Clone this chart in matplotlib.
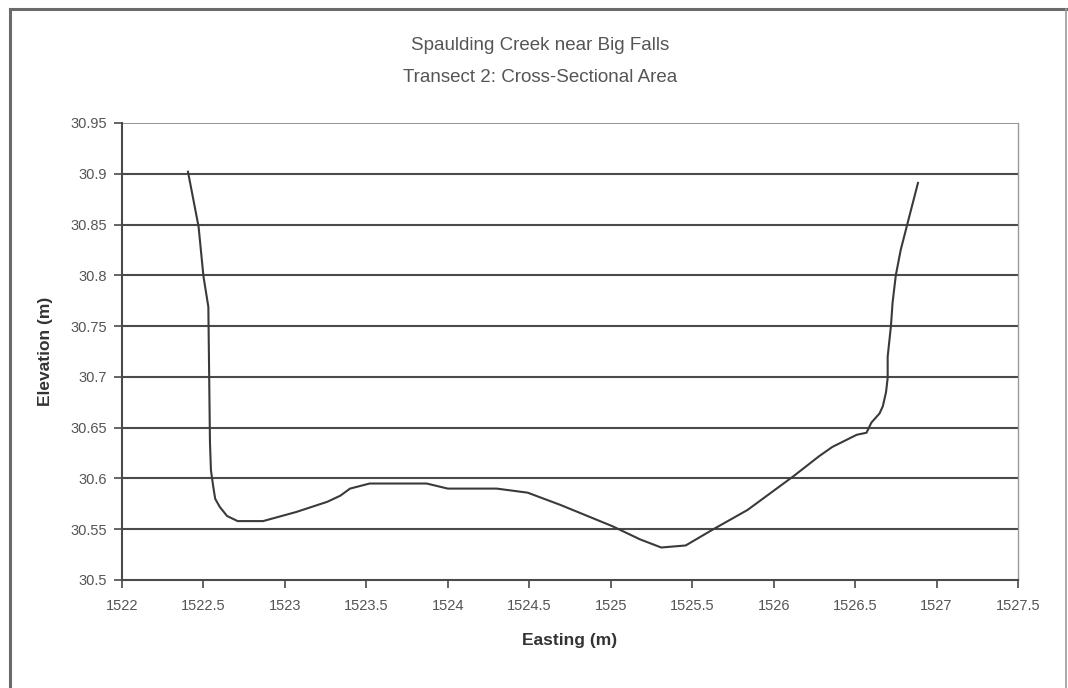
import matplotlib
matplotlib.use("Agg")
import matplotlib.pyplot as plt
from matplotlib.lines import Line2D

plt.rcParams['font.family'] = ['Liberation Sans', 'DejaVu Sans']

title_lines = ["Spaulding Creek near Big Falls", "Transect 2: Cross-Sectional Area"]
x_label = "Easting (m)"
y_label = "Elevation (m)"

easting = [1522.405, 1522.47, 1522.50, 1522.53, 1522.54, 1522.546, 1522.56, 1522.572,
           1522.60, 1522.645, 1522.71, 1522.866, 1523.07, 1523.26, 1523.34, 1523.40,
           1523.52, 1523.87, 1524.00, 1524.30, 1524.49, 1524.69, 1525.01, 1525.18,
           1525.31, 1525.46, 1525.63, 1525.84, 1526.12, 1526.28, 1526.36, 1526.51,
           1526.57, 1526.60, 1526.65, 1526.67, 1526.69, 1526.70, 1526.70, 1526.72,
           1526.73, 1526.75, 1526.78, 1526.82, 1526.886]
elevation = [30.902, 30.848, 30.799, 30.769, 30.635, 30.608, 30.592, 30.580,
             30.572, 30.563, 30.558, 30.558, 30.567, 30.577, 30.583, 30.590,
             30.595, 30.595, 30.590, 30.590, 30.586, 30.574, 30.553, 30.540,
             30.532, 30.534, 30.550, 30.569, 30.602, 30.622, 30.631, 30.643,
             30.645, 30.655, 30.664, 30.671, 30.685, 30.699, 30.720, 30.750,
             30.773, 30.800, 30.825, 30.850, 30.891]

x_ticks = [1522, 1522.5, 1523, 1523.5, 1524, 1524.5, 1525, 1525.5, 1526, 1526.5, 1527, 1527.5]
x_tick_labels = ["1522", "1522.5", "1523", "1523.5", "1524", "1524.5", "1525", "1525.5",
                 "1526", "1526.5", "1527", "1527.5"]
y_ticks = [30.5, 30.55, 30.6, 30.65, 30.7, 30.75, 30.8, 30.85, 30.9, 30.95]
y_tick_labels = ["30.5", "30.55", "30.6", "30.65", "30.7", "30.75", "30.8", "30.85", "30.9", "30.95"]

W, H = 1068, 688
fig = plt.figure(figsize=(W / 100, H / 100), dpi=100)
fig.patch.set_facecolor('white')

# outer chart border
bc = '#6a6a6a'
fig.add_artist(Line2D([10 / W, 10 / W], [0, 1 - 9 / H], color=bc, lw=2.2, transform=fig.transFigure))
fig.add_artist(Line2D([10 / W, 1066 / W], [1 - 9 / H, 1 - 9 / H], color=bc, lw=2.2, transform=fig.transFigure))
fig.add_artist(Line2D([1066 / W, 1066 / W], [0, 1 - 9 / H], color='#9a9a9a', lw=1.2, transform=fig.transFigure))

ax = fig.add_axes([122 / W, 1 - 580 / H, (1018 - 122) / W, (580 - 123) / H])
ax.set_xlim(1522, 1527.5)
ax.set_ylim(30.5, 30.95)

ax.set_yticks(y_ticks)
ax.set_yticklabels(y_tick_labels)
ax.set_xticks(x_ticks)
ax.set_xticklabels(x_tick_labels)

for y in y_ticks[1:-1]:
    ax.axhline(y, color='#4a4a4a', lw=1.5, zorder=1)
ax.axhline(y_ticks[-1], color='#808080', lw=1.2, zorder=1)

ax.plot(easting, elevation, color='#3a3a3a', lw=1.5, zorder=3)

ax.spines['top'].set_visible(False)
ax.spines['right'].set_color('#9a9a9a')
ax.spines['right'].set_linewidth(1.0)
ax.spines['left'].set_color('#4a4a4a')
ax.spines['bottom'].set_color('#4a4a4a')
ax.spines['left'].set_linewidth(1.5)
ax.spines['bottom'].set_linewidth(1.5)

ax.tick_params(axis='both', direction='out', length=6, width=1.2, color='#4a4a4a',
               labelsize=10.5, labelcolor='#555555')
ax.tick_params(axis='x', pad=8)
ax.tick_params(axis='y', pad=5)

ax.set_xlabel(x_label, fontsize=12.5, fontweight='bold', color='#333333', labelpad=14)
ax.set_ylabel(y_label, fontsize=12.5, fontweight='bold', color='#333333', labelpad=12)

fig.text(540 / W, 1 - 46 / H, title_lines[0], ha='center', va='center', fontsize=13.5, color='#555555')
fig.text(540 / W, 1 - 77 / H, title_lines[1], ha='center', va='center', fontsize=13.5, color='#555555')

fig.savefig('out.png', dpi=100, facecolor='white')
